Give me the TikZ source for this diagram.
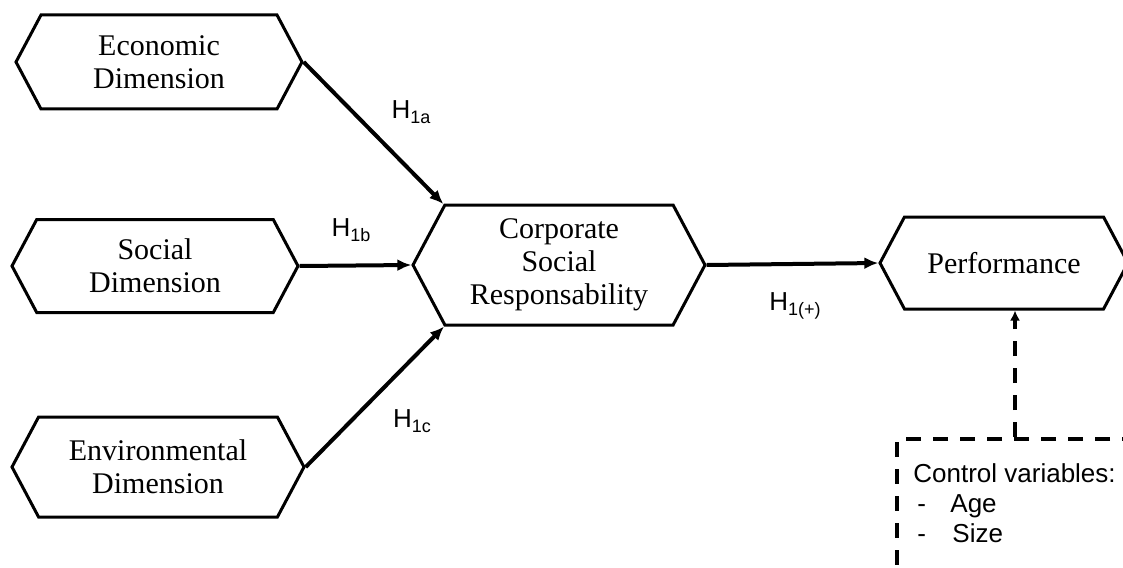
\documentclass[tikz,border=0pt]{standalone}
\usepackage{fontspec}
\setmainfont{Liberation Serif}
\newfontfamily\labelfont{Liberation Sans}
\usetikzlibrary{shapes.symbols,arrows.meta}

\newcommand{\hsub}[1]{\raisebox{-2.5pt}{\fontsize{9}{9}\selectfont #1}}

\begin{document}
\begin{tikzpicture}[
            x=0.5pt, y=-0.5pt,
            dimbox/.style={shape=signal, signal to=east and west, signal pointer angle=124, draw, line width=1.5pt, align=center, inner sep=0pt, font=\fontsize{15}{16.5}\selectfont},
            hyp/.style={font=\labelfont\fontsize{13}{15}\selectfont},
            link/.style={line width=2pt, -{Latex[length=7pt,width=6pt]}},
            ctrlline/.style={line width=2pt, dash pattern=on 7.5pt off 6pt}
        ]
            \useasboundingbox (0,0) rectangle (1123,567);

            % Dimensions
            \node[dimbox, minimum width=143pt, minimum height=47pt] (eco) at (159,62) {Economic\\Dimension};
            \node[dimbox, minimum width=143pt, minimum height=46.5pt] (soc) at (155,266) {Social\\Dimension};
            \node[dimbox, minimum width=146pt, minimum height=50pt] (env) at (158,467) {Environmental\\Dimension};

            % CSR and performance
            \node[dimbox, minimum width=146pt, minimum height=60pt] (csr) at (559,265) {Corporate\\Social\\Responsability};
            \node[dimbox, minimum width=124pt, minimum height=46pt] (perf) at (1004,263) {Performance};

            % Control variables
            \node[draw, ctrlline, anchor=north west, inner sep=0pt, minimum width=118pt, minimum height=100pt] (ctrl) at (895,437) {};
            \node[hyp, anchor=north west, align=left, inner sep=0pt] (ctrltext) at (913,463) {Control variables:\\\hspace{2pt}\makebox[16.5pt][l]{-}Age\\\hspace{2pt}\makebox[17.5pt][l]{-}Size};

            % Hypotheses
            \draw[link] (eco.east) -- (csr.north west);
            \draw[link] (soc.east) -- (csr.west);
            \draw[link] (env.east) -- (csr.south west);
            \draw[link] (csr.east) -- (perf.west);
            \draw[ctrlline, -{Latex[length=5pt,width=5pt]}] (ctrl.north) -- (ctrl.north |- perf.south);

            \node[hyp] (h1a) at (411,112) {H\hsub{1a}};
            \node[hyp] (h1b) at (351,230) {H\hsub{1b}};
            \node[hyp] (h1c) at (412,421) {H\hsub{1c}};
            \node[hyp] (h1p) at (795,306) {H\hsub{1(+)}};
        \end{tikzpicture}
\end{document}
